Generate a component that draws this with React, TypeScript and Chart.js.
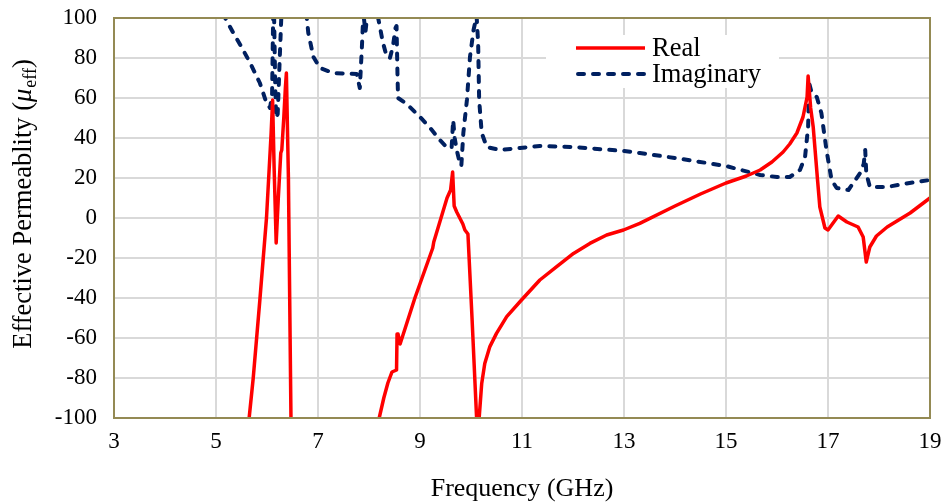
import React, { useEffect, useRef } from "react";
import { Chart, registerables } from "chart.js";

Chart.register(...registerables);

const xMin = 3;
const xMax = 19;
const xStep = 2;
const yMin = -100;
const yMax = 100;
const yStep = 20;

const seriesNames = ["Real", "Imaginary"];
const xTitle = "Frequency (GHz)";
const yTitleMain = "Effective Permeablity (";
const yTitleSymbol = "\u03bc";
const yTitleSub = "eff";
const yTitleEnd = ")";

// Real part (null = break between branches)
const realFreq = [
  5.62, 5.65, 5.73, 5.86, 5.99, 6.08, 6.11, 6.14, 6.18, 6.22, 6.27, 6.29, 6.33, 6.36, 6.38, 6.42, 6.47, 6.48,
  7.3,
  8.17, 8.2, 8.29, 8.37, 8.45, 8.54, 8.55, 8.57, 8.61, 8.9, 9.25, 9.27, 9.53, 9.6, 9.64, 9.67, 9.72, 9.78, 9.84, 9.88, 9.94, 10.02, 10.11, 10.12,
  10.135,
  10.15, 10.16, 10.21, 10.27, 10.37, 10.5, 10.7, 10.99, 11.35, 11.68, 12.01, 12.33, 12.66, 12.99, 13.31, 14.0, 14.5, 15.0, 15.4, 15.67, 15.9, 16.12, 16.25, 16.39, 16.51, 16.59, 16.61,
  16.66, 16.71, 16.8, 16.84, 16.94, 17.0, 17.2, 17.37, 17.59, 17.69, 17.75, 17.82, 17.95, 18.16, 18.61, 19.0,
];
const realVal = [
  -110, -100, -80, -41, 0, 42, 59, 25, -12.5, 9, 32.5, 34, 50.5, 65, 72.5, 20, -100, -110,
  null,
  -110, -100, -90, -82.5, -77, -76, -58, -58, -63, -40, -15, -12, 10, 14, 23, 6, 3, 0, -3, -6, -8, -50, -100, -110,
  null,
  -110, -100, -82.7, -72.7, -64.3, -57.7, -49.3, -41, -31, -24.3, -17.7, -12.7, -8.5, -6, -2.7, 6, 12, 17.5, 21, 24, 28, 33, 37, 42.5, 50.5, 60.5, 71,
  55, 45.5, 17.5, 5.5, -5, -6, 1, -2, -4.5, -9.5, -22, -14.5, -9, -4.5, 2.5, 10,
];

// Imaginary part (values above 100 run off the top of the plot)
const imagFreq = [
  5.15, 5.18, 5.34, 5.5, 5.67, 5.86, 5.99, 6.06, 6.1, 6.12, 6.125, 6.135, 6.14, 6.16, 6.18, 6.21, 6.25, 6.28, 6.3,
  6.75, 6.78, 6.81, 6.91, 7.04, 7.3, 7.76, 7.82, 7.86, 7.88, 7.9, 7.93, 7.96, 7.98,
  8.15, 8.18, 8.27, 8.35, 8.41, 8.47, 8.52, 8.54, 8.56, 8.57, 8.74, 9.0, 9.2, 9.39, 9.52, 9.62, 9.65, 9.68, 9.72, 9.78, 9.81,
  9.85, 9.92, 9.98, 10.05, 10.11, 10.14, 10.16, 10.21, 10.31, 10.57, 10.96, 11.35, 12.0, 13.0, 13.31, 14.0, 15.0, 15.67,
  16.0, 16.25, 16.45, 16.55, 16.61, 16.63, 16.68, 16.78, 16.87, 16.97, 17.07, 17.17, 17.4, 17.63, 17.7, 17.73, 17.75,
  17.82, 18.15, 18.6, 19.0,
];
const imagVal = [
  110, 100, 92.5, 85.5, 77.5, 67.5, 57.5, 55, 62, 100, 115, 115, 100, 68, 50, 52, 80, 100, 120,
  120, 100, 92.5, 80.5, 75, 72.5, 72, 65, 85, 97, 100, 93, 100, 110,
  110, 100, 88, 80.5, 80, 86, 95, 96, 70, 60, 57, 50.5, 45, 39, 35.5, 35, 49, 40, 34, 27.5, 26,
  42.5, 59, 80.5, 94, 101, 87.5, 59, 42.5, 35.5, 34, 35, 36, 35.5, 33.5, 32.5, 30, 26, 21.5,
  20.5, 20.5, 24, 30.5, 45.5, 67.5, 62.5, 60.5, 52.5, 34, 19, 15, 14, 22.5, 27, 34, 22.5,
  15.5, 15.5, 17.5, 19,
];

const FONT = '"Liberation Serif", "Times New Roman", serif';
const RED = "#ff0000";
const NAVY = "#002060";
const FRAME = "#948a54";
const GRID = "#d9d9d9";

const zeroPad = (s: any) => {
  s.paddingTop = 0;
  s.paddingBottom = 0;
  s.paddingLeft = 0;
  s.paddingRight = 0;
};

export default function App() {
  const ref = useRef<HTMLCanvasElement>(null);

  useEffect(() => {
    if (!ref.current) return;
    const deco = {
      id: "deco",
      afterDatasetsDraw(chart: any) {
        const { ctx, chartArea: a } = chart;
        ctx.save();
        ctx.strokeStyle = FRAME;
        ctx.lineWidth = 2;
        ctx.strokeRect(a.left, a.top, a.right - a.left, a.bottom - a.top);
        ctx.restore();
      },
      afterDraw(chart: any) {
        const { ctx, chartArea: a } = chart;
        ctx.save();
        // legend
        ctx.fillStyle = "#ffffff";
        ctx.fillRect(546, 35, 233, 53);
        ctx.lineWidth = 3.5;
        ctx.strokeStyle = RED;
        ctx.setLineDash([]);
        ctx.beginPath();
        ctx.moveTo(576, 48);
        ctx.lineTo(645, 48);
        ctx.stroke();
        ctx.strokeStyle = NAVY;
        ctx.lineWidth = 4;
        ctx.lineCap = "round";
        ctx.setLineDash([6, 9]);
        ctx.beginPath();
        ctx.moveTo(578, 74);
        ctx.lineTo(645, 74);
        ctx.stroke();
        ctx.setLineDash([]);
        ctx.fillStyle = "#000000";
        ctx.font = `26.5px ${FONT}`;
        ctx.textBaseline = "middle";
        ctx.textAlign = "left";
        ctx.fillText(seriesNames[0], 652, 49);
        ctx.fillText(seriesNames[1], 652, 75);

        // x title
        ctx.font = `26px ${FONT}`;
        ctx.textAlign = "center";
        ctx.textBaseline = "alphabetic";
        ctx.fillText(xTitle, (a.left + a.right) / 2, 496);

        // y title (rotated, with italic mu and subscript)
        ctx.translate(31, 204);
        ctx.rotate(-Math.PI / 2);
        ctx.textAlign = "left";
        const f1 = `26.5px ${FONT}`;
        const f2 = `italic 26.5px ${FONT}`;
        const f3 = `18px ${FONT}`;
        ctx.font = f1;
        const w1 = ctx.measureText(yTitleMain).width;
        const w4 = ctx.measureText(yTitleEnd).width;
        ctx.font = f2;
        const w2 = ctx.measureText(yTitleSymbol).width;
        ctx.font = f3;
        const w3 = ctx.measureText(yTitleSub).width;
        let x = -(w1 + w2 + w3 + w4 + 1) / 2;
        ctx.font = f1;
        ctx.fillText(yTitleMain, x, 0);
        x += w1;
        ctx.font = f2;
        ctx.fillText(yTitleSymbol, x, 0);
        x += w2 + 1;
        ctx.font = f3;
        ctx.fillText(yTitleSub, x, 5);
        x += w3;
        ctx.font = f1;
        ctx.fillText(yTitleEnd, x, 0);
        ctx.restore();
      },
    };

    const realData = realFreq.map((f, i) => ({ x: f, y: realVal[i] }));
    const imagData = imagFreq.map((f, i) => ({ x: f, y: imagVal[i] }));

    const chart = new Chart(ref.current, {
      type: "line",
      data: {
        datasets: [
          {
            label: seriesNames[0],
            data: realData as any,
            borderColor: RED,
            backgroundColor: RED,
            borderWidth: 3.5,
            pointRadius: 0,
            tension: 0,
            spanGaps: false,
            borderJoinStyle: "round",
            borderCapStyle: "round",
          },
          {
            label: seriesNames[1],
            data: imagData as any,
            borderColor: NAVY,
            backgroundColor: NAVY,
            borderWidth: 4,
            borderDash: [6, 9],
            borderCapStyle: "round",
            borderJoinStyle: "round",
            pointRadius: 0,
            tension: 0,
            spanGaps: false,
          },
        ],
      },
      options: {
        animation: false,
        responsive: true,
        maintainAspectRatio: false,
        devicePixelRatio: 1,
        layout: { padding: { left: 0, right: 14, top: 18, bottom: 0 } },
        plugins: {
          legend: { display: false },
          tooltip: { enabled: false },
        },
        scales: {
          x: {
            type: "linear",
            min: xMin,
            max: xMax,
            ticks: {
              stepSize: xStep,
              color: "#000000",
              font: { family: FONT, size: 23 },
              padding: 10,
              maxRotation: 0,
            },
            grid: { color: GRID, lineWidth: 2, drawTicks: false },
            border: { display: false },
            afterFit: (s: any) => {
              s.height = 86;
              zeroPad(s);
            },
          },
          y: {
            type: "linear",
            min: yMin,
            max: yMax,
            ticks: {
              stepSize: yStep,
              color: "#000000",
              font: { family: FONT, size: 23 },
              padding: 17,
            },
            grid: { color: GRID, lineWidth: 2, drawTicks: false },
            border: { display: false },
            afterFit: (s: any) => {
              s.width = 114;
              zeroPad(s);
            },
          },
        },
      },
      plugins: [deco],
    });
    return () => chart.destroy();
  }, []);

  return (
    <div style={{ position: "absolute", left: 0, top: 0, width: 944, height: 504 }}>
      <canvas ref={ref} />
    </div>
  );
}
